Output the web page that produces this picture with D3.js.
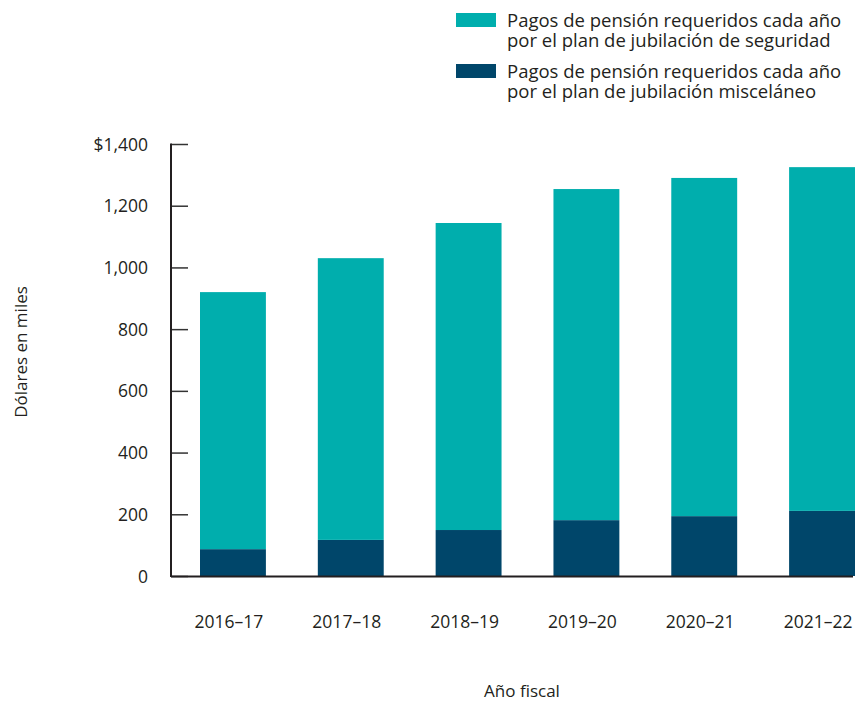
<!DOCTYPE html>
<meta charset="utf-8">
<style>
  body { margin: 0; background: #fff; }
  text { font-family: "Open Sans", sans-serif; fill: #231f20; }
</style>
<script src="https://d3js.org/d3.v7.min.js"></script>
<div id="chart"></div>
<script>
// data (thousands of dollars)
var years = ["2016–17", "2017–18", "2018–19", "2019–20", "2020–21", "2021–22"];
var misc = [87, 117, 149, 181, 194, 211];
var safety = [833, 913, 995, 1073, 1096, 1114];
var yTicks = [0, 200, 400, 600, 800, 1000, 1200, 1400];
var seriesNames = [
  ["Pagos de pensión requeridos cada año", "por el plan de jubilación de seguridad"],
  ["Pagos de pensión requeridos cada año", "por el plan de jubilación misceláneo"]
];
var colors = ["#00aead", "#00466a"]; // safety, misc

var W = 855, H = 701;
var mLeft = 171, mRight = 855, mTop = 144, mBottom = 576;

var svg = d3.select("#chart").append("svg")
  .attr("width", W).attr("height", H);

var rows = years.map(function(y, i) {
  return { year: y, misc: misc[i], safety: safety[i] };
});
var stacked = d3.stack().keys(["misc", "safety"])(rows);

// first bar starts ~200, last ends at the right edge
var x = d3.scaleBand().domain(years)
  .range([200, mRight]).paddingInner(52 / 118).paddingOuter(0);

var y = d3.scaleLinear().domain([0, 1400]).range([mBottom, mTop]);

// bars
svg.selectAll("g.layer")
  .data(stacked)
  .enter().append("g")
  .attr("fill", function(d) { return d.key === "misc" ? colors[1] : colors[0]; })
  .selectAll("rect")
  .data(function(d) { return d; })
  .enter().append("rect")
  .attr("x", function(d) { return x(d.data.year); })
  .attr("width", x.bandwidth())
  .attr("y", function(d) { return y(d[1]); })
  .attr("height", function(d) { return y(d[0]) - y(d[1]); });

// y axis
var yAxis = svg.append("g")
  .attr("transform", "translate(" + mLeft + ",0)")
  .call(d3.axisRight(y).tickValues(yTicks).tickSize(17)
    .tickFormat(function(d) { return d === 1400 ? "$" + d3.format(",")(d) : d3.format(",")(d); }));
yAxis.select(".domain").remove();
yAxis.selectAll(".tick line").attr("stroke", "#333").attr("stroke-width", 1.5);
yAxis.selectAll(".tick text")
  .attr("x", -23).attr("dy", "0.35em")
  .attr("text-anchor", "end")
  .style("font-size", "17.5px")
  .style("fill", "#231f20");

svg.append("line")
  .attr("x1", mLeft).attr("x2", mLeft)
  .attr("y1", mTop - 0.5).attr("y2", mBottom + 1)
  .attr("stroke", "#231f20").attr("stroke-width", 2);

// x axis
svg.append("line")
  .attr("x1", mLeft).attr("x2", 853)
  .attr("y1", mBottom + 0.5).attr("y2", mBottom + 0.5)
  .attr("stroke", "#231f20").attr("stroke-width", 2);

// labels sit a little left of the bar centres in the original
svg.selectAll("text.xlab")
  .data(years)
  .enter().append("text")
  .attr("class", "xlab")
  .attr("x", function(d) { return x(d) + x.bandwidth() / 2 - 4; })
  .attr("y", 628)
  .attr("text-anchor", "middle")
  .style("font-size", "17.5px")
  .text(function(d) { return d; });

// axis titles
svg.append("text")
  .attr("x", 522).attr("y", 697)
  .attr("text-anchor", "middle")
  .style("font-size", "17px")
  .text("Año fiscal");

svg.append("text")
  .attr("transform", "translate(27,352) rotate(-90)")
  .attr("text-anchor", "middle")
  .style("font-size", "17px")
  .text("Dólares en miles");

// legend, one text per line
var leg = svg.selectAll("g.leg")
  .data(seriesNames)
  .enter().append("g")
  .attr("transform", function(d, i) { return "translate(456," + (13 + i * 51) + ")"; });
leg.append("rect")
  .attr("width", 40).attr("height", 14)
  .attr("fill", function(d, i) { return colors[i]; });
leg.selectAll("text")
  .data(function(d) { return d; })
  .enter().append("text")
  .attr("x", 51)
  .attr("y", function(d, j) { return 14 + j * 20; })
  .style("font-size", "18.5px")
  .text(function(d) { return d; });
</script>
